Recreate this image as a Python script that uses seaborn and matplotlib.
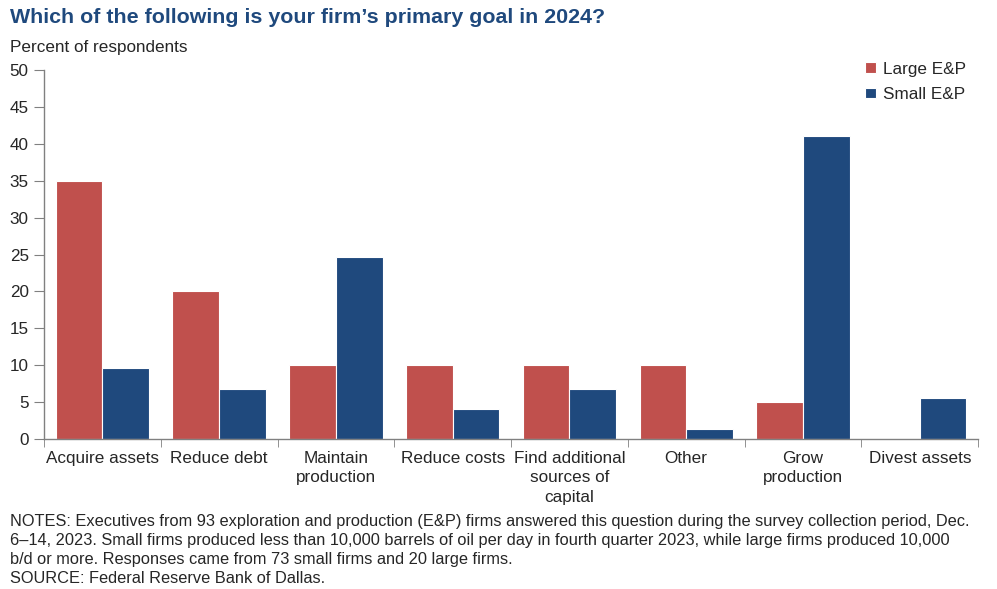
import numpy as np
import pandas as pd
import matplotlib.pyplot as plt
import seaborn as sns

categories = ["Acquire assets", "Reduce debt", "Maintain\nproduction", "Reduce costs",
              "Find additional\nsources of\ncapital", "Other", "Grow\nproduction", "Divest assets"]
large_ep = [35, 20, 10, 10, 10, 10, 5, 0]
small_ep = [9.6, 6.8, 24.7, 4.1, 6.8, 1.4, 41.1, 5.5]
series_names = ["Large E&P", "Small E&P"]

data = pd.DataFrame({
    "goal": categories * 2,
    "pct": large_ep + small_ep,
    "group": [series_names[0]] * len(categories) + [series_names[1]] * len(categories),
})

sns.set_style("white")
plt.rcParams['font.family'] = ['Liberation Sans', 'DejaVu Sans']

f = plt.figure(figsize=(9.97, 5.89), dpi=100)
ax = f.add_axes([0.0441, 0.2547, 0.937, 0.6263])
sns.barplot(data=data, x="goal", y="pct", hue="group", ax=ax,
            palette=["#C0504D", "#1F497D"], width=0.8,
            edgecolor="white", linewidth=0.8, saturation=1)

ax.set_ylim(0, 50)
ax.set_xlim(-0.5, len(categories) - 0.5)
ax.set_yticks(range(0, 51, 5))
ax.set_xlabel("")
ax.set_ylabel("")
ax.tick_params(axis="y", labelsize=12.3, length=7, color="#808080", direction="out", left=True, pad=4)
ax.tick_params(axis="x", labelsize=12.3, bottom=False, pad=5)
for lbl in ax.get_xticklabels():
    lbl.set_linespacing(1.38)
# separadores entre categorías
ax.set_xticks(np.arange(-0.5, len(categories), 1), minor=True)
ax.tick_params(axis="x", which="minor", length=6, color="#808080", direction="out", bottom=True)
for s in ["top", "right"]:
    ax.spines[s].set_visible(False)
for s in ["left", "bottom"]:
    ax.spines[s].set_color("#808080")
    ax.spines[s].set_linewidth(1)

leg = ax.legend(loc="upper right", bbox_to_anchor=(1.0, 1.055), frameon=False, fontsize=12.3,
                handlelength=0.6, handleheight=0.6, handletextpad=0.45, labelspacing=0.6,
                borderaxespad=0.3)

f.text(0.01, 0.961, "Which of the following is your firm\u2019s primary goal in 2024?",
       fontsize=15.4, fontweight="bold", color="#1F497D", va="baseline")
f.text(0.01, 0.912, "Percent of respondents", fontsize=12.3, va="baseline")
notes = ("NOTES: Executives from 93 exploration and production (E&P) firms answered this question during the survey collection period, Dec.\n"
         "6\u201314, 2023. Small firms produced less than 10,000 barrels of oil per day in fourth quarter 2023, while large firms produced 10,000\n"
         "b/d or more. Responses came from 73 small firms and 20 large firms.\n"
         "SOURCE: Federal Reserve Bank of Dallas.")
f.text(0.01, 0.128, notes, fontsize=11.8, va="top", linespacing=1.34)

f.savefig("out.png", dpi=100)
